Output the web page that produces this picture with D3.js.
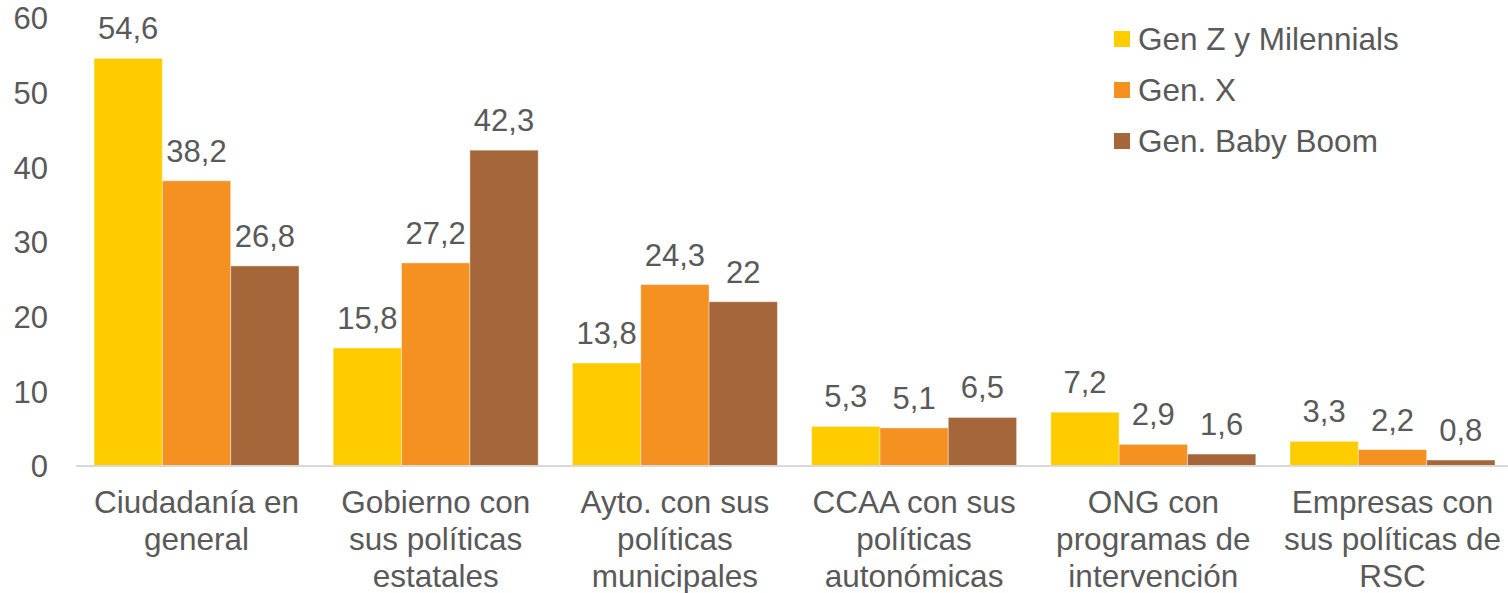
<!DOCTYPE html>
<meta charset="utf-8">
<style>
body { margin: 0; background: #fff; }
svg text { font-family: "Liberation Sans", Arial, sans-serif; fill: #595959; }
.axis text { font-size: 31px; }
.axis path, .axis line { display: none; }
.val { font-size: 31px; text-anchor: middle; }
.cat { font-size: 31.5px; text-anchor: middle; }
.legend text { font-size: 31.5px; }
</style>
<svg id="chart" width="1508" height="593"></svg>
<script src="https://d3js.org/d3.v7.min.js"></script>
<script>

var categories = [
  ["Ciudadanía en", "general"],
  ["Gobierno con", "sus políticas", "estatales"],
  ["Ayto. con sus", "políticas", "municipales"],
  ["CCAA con sus", "políticas", "autonómicas"],
  ["ONG con", "programas de", "intervención"],
  ["Empresas con", "sus políticas de", "RSC"]
];
var series = ["Gen Z y Milennials", "Gen. X", "Gen. Baby Boom"];
var genZ = [54.6, 15.8, 13.8, 5.3, 7.2, 3.3];
var genX = [38.2, 27.2, 24.3, 5.1, 2.9, 2.2];
var boom = [26.8, 42.3, 22, 6.5, 1.6, 0.8];
var yTicks = [0, 10, 20, 30, 40, 50, 60];
var colors = ["#FFCC00", "#F59120", "#A5673A"];

var values = [genZ, genX, boom];
var plotLeft = 76, plotRight = 1513, plotTop = 18, plotBottom = 466;

var svg = d3.select("#chart");

var x0 = d3.scaleBand()
    .domain(d3.range(categories.length))
    .range([plotLeft, plotRight])
    .paddingInner(0.143)
    .paddingOuter(0.0753);
var x1 = d3.scaleBand()
    .domain(d3.range(series.length))
    .range([0, x0.bandwidth()]);
var y = d3.scaleLinear().domain([0, 60]).range([plotBottom, plotTop]);

svg.append("g")
    .attr("class", "axis")
    .attr("transform", "translate(48,0)")
    .call(d3.axisLeft(y).tickValues(yTicks).tickSize(0).tickPadding(0))
    .call(function(g) { g.selectAll("text").attr("dy", "0.35em"); });

var group = svg.selectAll("g.grp")
    .data(categories)
  .enter().append("g")
    .attr("class", "grp")
    .attr("transform", function(d, i) { return "translate(" + x0(i) + ",0)"; });

series.forEach(function(s, si) {
  group.append("rect")
    .attr("x", x1(si))
    .attr("width", x1.bandwidth())
    .attr("y", function(d, i) { return y(values[si][i]); })
    .attr("height", function(d, i) { return plotBottom - y(values[si][i]); })
    .attr("fill", colors[si])
    .attr("stroke", "#fff")
    .attr("stroke-opacity", 0.4)
    .attr("stroke-width", 1);
  group.append("text")
    .attr("class", "val")
    .attr("x", x1(si) + x1.bandwidth() / 2)
    .attr("y", function(d, i) { return y(values[si][i]) - 19; })
    .text(function(d, i) { return String(values[si][i]).replace(".", ","); });
});

svg.append("line")
    .attr("x1", plotLeft).attr("x2", 1508)
    .attr("y1", plotBottom).attr("y2", plotBottom)
    .attr("stroke", "#D9D9D9").attr("stroke-width", 2);

group.append("text")
    .attr("class", "cat")
    .attr("x", x0.bandwidth() / 2)
    .attr("y", 513)
    .selectAll("tspan")
    .data(function(d) { return d; })
  .enter().append("tspan")
    .attr("x", x0.bandwidth() / 2)
    .attr("dy", function(d, i) { return i === 0 ? 0 : 37; })
    .text(function(d) { return d; });

var legend = svg.append("g")
    .attr("class", "legend")
    .selectAll("g")
    .data(series)
  .enter().append("g")
    .attr("transform", function(d, i) { return "translate(1114," + (39 + i * 51) + ")"; });
legend.append("rect")
    .attr("x", 0).attr("y", -8)
    .attr("width", 16).attr("height", 16)
    .attr("fill", function(d, i) { return colors[i]; });
legend.append("text")
    .attr("x", 24)
    .attr("dy", "0.35em")
    .text(function(d) { return d; });

</script>
